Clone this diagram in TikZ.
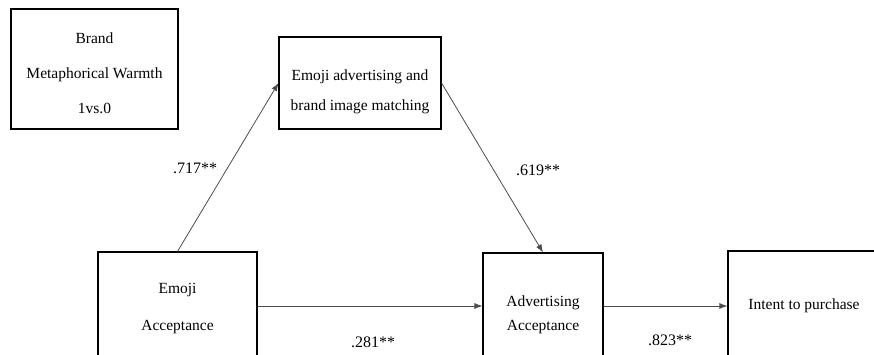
\documentclass[tikz,border=0pt]{standalone}
\usepackage{fontspec}
\setmainfont{Liberation Serif}
\usetikzlibrary{arrows.meta,calc,positioning}

\begin{document}
\begin{tikzpicture}[x=1pt, y=1pt,
  box/.style={draw, line width=1.1pt, align=center, inner sep=0pt, font=\fontsize{15.5}{18}\selectfont},
  arrow/.style={-{Latex[length=8pt, width=6pt]}, line width=0.8pt, color=black!70},
  coef/.style={font=\fontsize{16}{18}\selectfont}
]
\clip (0,0) rectangle (874,355);

\node[box, minimum width=167, minimum height=120] (warm) at (94.5,286)
  {\rule{0pt}{19pt}Brand\\[17pt]Metaphorical Warmth\\[17pt]1vs.0};

\node[box, minimum width=162, minimum height=92] (match) at (360,272)
  {\rule{0pt}{29pt}Emoji advertising and\\[12pt]brand image matching};

\node[box, minimum width=159, minimum height=113] (acc) at (177.5,46.5)
  {Emoji\\[19pt]Acceptance};
\node[box, minimum width=120, minimum height=124] (adv) at (543,40)
  {Advertising\\[6pt]Acceptance};
\node[box, minimum width=152, minimum height=110] (buy) at (804,49)
  {Intent to purchase};

\draw[arrow] (acc.north) -- (match.west);
\draw[arrow] (match.east) -- (adv.north);
\draw[arrow] (acc.east |- buy.west) -- (adv.west |- buy.west);
\draw[arrow] (adv.east |- buy.west) -- (buy.west);

% --- coefficients --------------------------------------------------------
\node[coef] (c1) at (195,187) {.717**};
\node[coef] (c2) at (538,185) {.619**};
\node[coef] (c3) at (373,13) {.281**};
\node[coef] (c4) at (670,15) {.823**};

\end{tikzpicture}
\end{document}
